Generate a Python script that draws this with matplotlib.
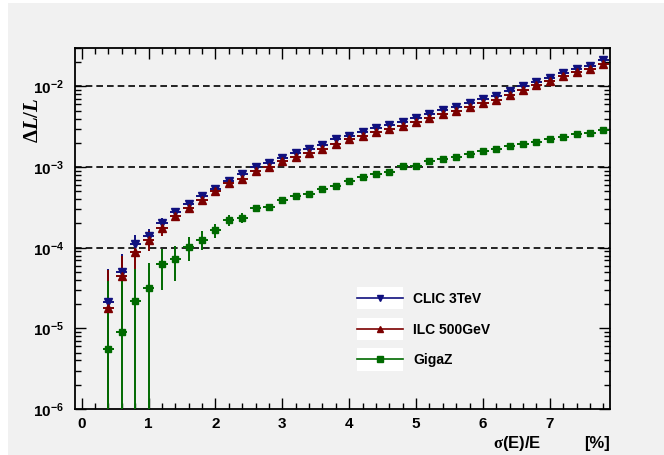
import numpy as np
import matplotlib
matplotlib.use("Agg")
import matplotlib.pyplot as plt
from matplotlib.lines import Line2D
from matplotlib.patches import Rectangle
from matplotlib.legend_handler import HandlerLine2D
from matplotlib.ticker import MultipleLocator, LogLocator, NullFormatter

plt.rcParams['font.family'] = ['Liberation Sans', 'DejaVu Sans']
plt.rcParams['font.weight'] = 'bold'
plt.rcParams['mathtext.fontset'] = 'custom'
plt.rcParams['mathtext.rm'] = 'Liberation Serif'
plt.rcParams['mathtext.it'] = 'Liberation Serif:italic:bold'
plt.rcParams['mathtext.bf'] = 'Liberation Sans:bold'

# ---------------- data ----------------
# beam energy spread sigma(E)/E in percent
spread = [0.4, 0.6, 0.8, 1.0, 1.2, 1.4, 1.6, 1.8, 2.0, 2.2,
          2.4, 2.6, 2.8, 3.0, 3.2, 3.4, 3.6, 3.8, 4.0, 4.2,
          4.4, 4.6, 4.8, 5.0, 5.2, 5.4, 5.6, 5.8, 6.0, 6.2,
          6.4, 6.6, 6.8, 7.0, 7.2, 7.4, 7.6, 7.8]

# relative luminosity error dL/L for each machine
clic_3tev = [2.1e-5, 5.0e-5, 1.1e-4, 1.38e-4, 2.0e-4, 2.8e-4, 3.5e-4, 4.4e-4, 5.4e-4, 6.7e-4,
             8.3e-4, 1.0e-3, 1.13e-3, 1.31e-3, 1.48e-3, 1.7e-3, 1.9e-3, 2.2e-3, 2.45e-3, 2.7e-3,
             3.05e-3, 3.3e-3, 3.6e-3, 4.1e-3, 4.5e-3, 5.1e-3, 5.6e-3, 6.2e-3, 6.9e-3, 7.7e-3,
             8.9e-3, 1.0e-2, 1.15e-2, 1.29e-2, 1.47e-2, 1.66e-2, 1.81e-2, 2.1e-2]
ilc_500gev = [1.8e-5, 4.4e-5, 8.9e-5, 1.26e-4, 1.74e-4, 2.5e-4, 3.1e-4, 3.9e-4, 5.0e-4, 6.3e-4,
              7.2e-4, 8.9e-4, 1.0e-3, 1.2e-3, 1.32e-3, 1.5e-3, 1.7e-3, 1.94e-3, 2.2e-3, 2.45e-3,
              2.7e-3, 2.96e-3, 3.25e-3, 3.6e-3, 4.05e-3, 4.5e-3, 5.0e-3, 5.5e-3, 6.2e-3, 6.8e-3,
              7.85e-3, 9.1e-3, 1.03e-2, 1.18e-2, 1.33e-2, 1.51e-2, 1.66e-2, 1.9e-2]
gigaz = [5.6e-6, 9.1e-6, 2.2e-5, 3.2e-5, 6.3e-5, 7.2e-5, 1.02e-4, 1.26e-4, 1.65e-4, 2.2e-4,
         2.35e-4, 3.1e-4, 3.2e-4, 3.9e-4, 4.4e-4, 4.6e-4, 5.3e-4, 5.9e-4, 6.7e-4, 7.6e-4,
         8.3e-4, 8.6e-4, 1.02e-3, 1.02e-3, 1.18e-3, 1.27e-3, 1.34e-3, 1.47e-3, 1.58e-3, 1.69e-3,
         1.83e-3, 1.94e-3, 2.07e-3, 2.2e-3, 2.36e-3, 2.55e-3, 2.68e-3, 2.9e-3]

# statistical uncertainty on each point (absolute)
clic_err = 3.3e-5
ilc_err = 3.5e-5
gigaz_err = 3.3e-5
bin_half = 0.085

series = [
    ("CLIC 3TeV", clic_3tev, clic_err, "v", "#10107e", 6.0),
    ("ILC 500GeV", ilc_500gev, ilc_err, "^", "#7c0000", 6.0),
    ("GigaZ", gigaz, gigaz_err, "s", "#006a00", 5.0),
]

reference_levels = [1e-2, 1e-3, 1e-4]
canvas_grey = "#f1f1f1"


class BoxedLineHandler(HandlerLine2D):
    """Legend line sample drawn on a small white box, ROOT style."""
    def create_artists(self, legend, orig_handle, xdescent, ydescent,
                       width, height, fontsize, trans):
        artists = super().create_artists(legend, orig_handle, xdescent, ydescent,
                                         width, height, fontsize, trans)
        box = Rectangle((-xdescent, -ydescent + height / 2 - 1.15 * height),
                        width, 2.3 * height, facecolor="white",
                        edgecolor="none", transform=trans)
        return [box] + artists


fig = plt.figure(figsize=(6.64, 4.55), dpi=100)
fig.patch.set_facecolor("white")
fig.patches.append(Rectangle((8 / 664, 0), 1, 1 - 3 / 455, transform=fig.transFigure,
                             facecolor=canvas_grey, edgecolor="none", zorder=-10))

ax = fig.add_axes([75 / 664, 1 - 409 / 455, 535 / 664, 361 / 455])
ax.set_facecolor(canvas_grey)
ax.set_yscale("log")
ax.set_xlim(-0.1, 7.9)
ax.set_ylim(1e-6, 3.0e-2)

for lev in reference_levels:
    ax.axhline(lev, color="black", lw=1.2, ls=(0, (4, 2.4)), zorder=1)

handles = []
for name, vals, err, mk, col, ms in series:
    ax.errorbar(spread, vals, yerr=err, xerr=bin_half, fmt=mk, color=col,
                ms=ms, mec=col, mfc=col, elinewidth=1.4, capsize=0, zorder=3)
    handles.append(Line2D([], [], color=col, marker=mk, ms=ms - 1, lw=1.2, label=name))

# axes styling
ax.xaxis.set_minor_locator(MultipleLocator(0.2))
ax.set_xticks(range(0, 8))
ax.set_xticklabels([str(v) for v in range(0, 8)], fontsize=11, fontweight="bold")

decades = [1e-6, 1e-5, 1e-4, 1e-3, 1e-2]
ax.set_yticks(decades)
ax.set_yticklabels([r"$\mathbf{10^{%d}}$" % int(np.log10(d)) for d in decades], fontsize=11)
ax.yaxis.set_minor_locator(LogLocator(base=10, subs=np.arange(2, 10)))
ax.yaxis.set_minor_formatter(NullFormatter())

ax.tick_params(which="both", direction="in", top=True, right=True, width=1.0, color="black")
ax.tick_params(which="major", length=8)
ax.tick_params(which="minor", length=4)
ax.tick_params(axis="x", which="major", pad=6)
ax.tick_params(axis="y", which="major", pad=8)
for sp in ax.spines.values():
    sp.set_linewidth(1.3)

ax.text(-0.08, 0.80, r"$\Delta\mathit{L/L}$", transform=ax.transAxes,
        rotation=90, ha="center", va="center", fontsize=15)
ax.text(0.871, -0.095, r"$\mathrm{\sigma}$(E)/E", transform=ax.transAxes,
        ha="right", va="center", fontsize=12, fontweight="bold")
ax.text(1.0, -0.095, "[%]", transform=ax.transAxes,
        ha="right", va="center", fontsize=12, fontweight="bold")

leg = ax.legend(handles=handles, loc="center left", bbox_to_anchor=(0.515, 0.22),
                frameon=False, numpoints=1, handlelength=3.3, handletextpad=0.7,
                labelspacing=1.2, borderpad=0,
                prop={"family": "Liberation Sans", "weight": "bold", "size": 10},
                handler_map={Line2D: BoxedLineHandler()})

fig.savefig("out.png", dpi=100, facecolor=fig.get_facecolor())
